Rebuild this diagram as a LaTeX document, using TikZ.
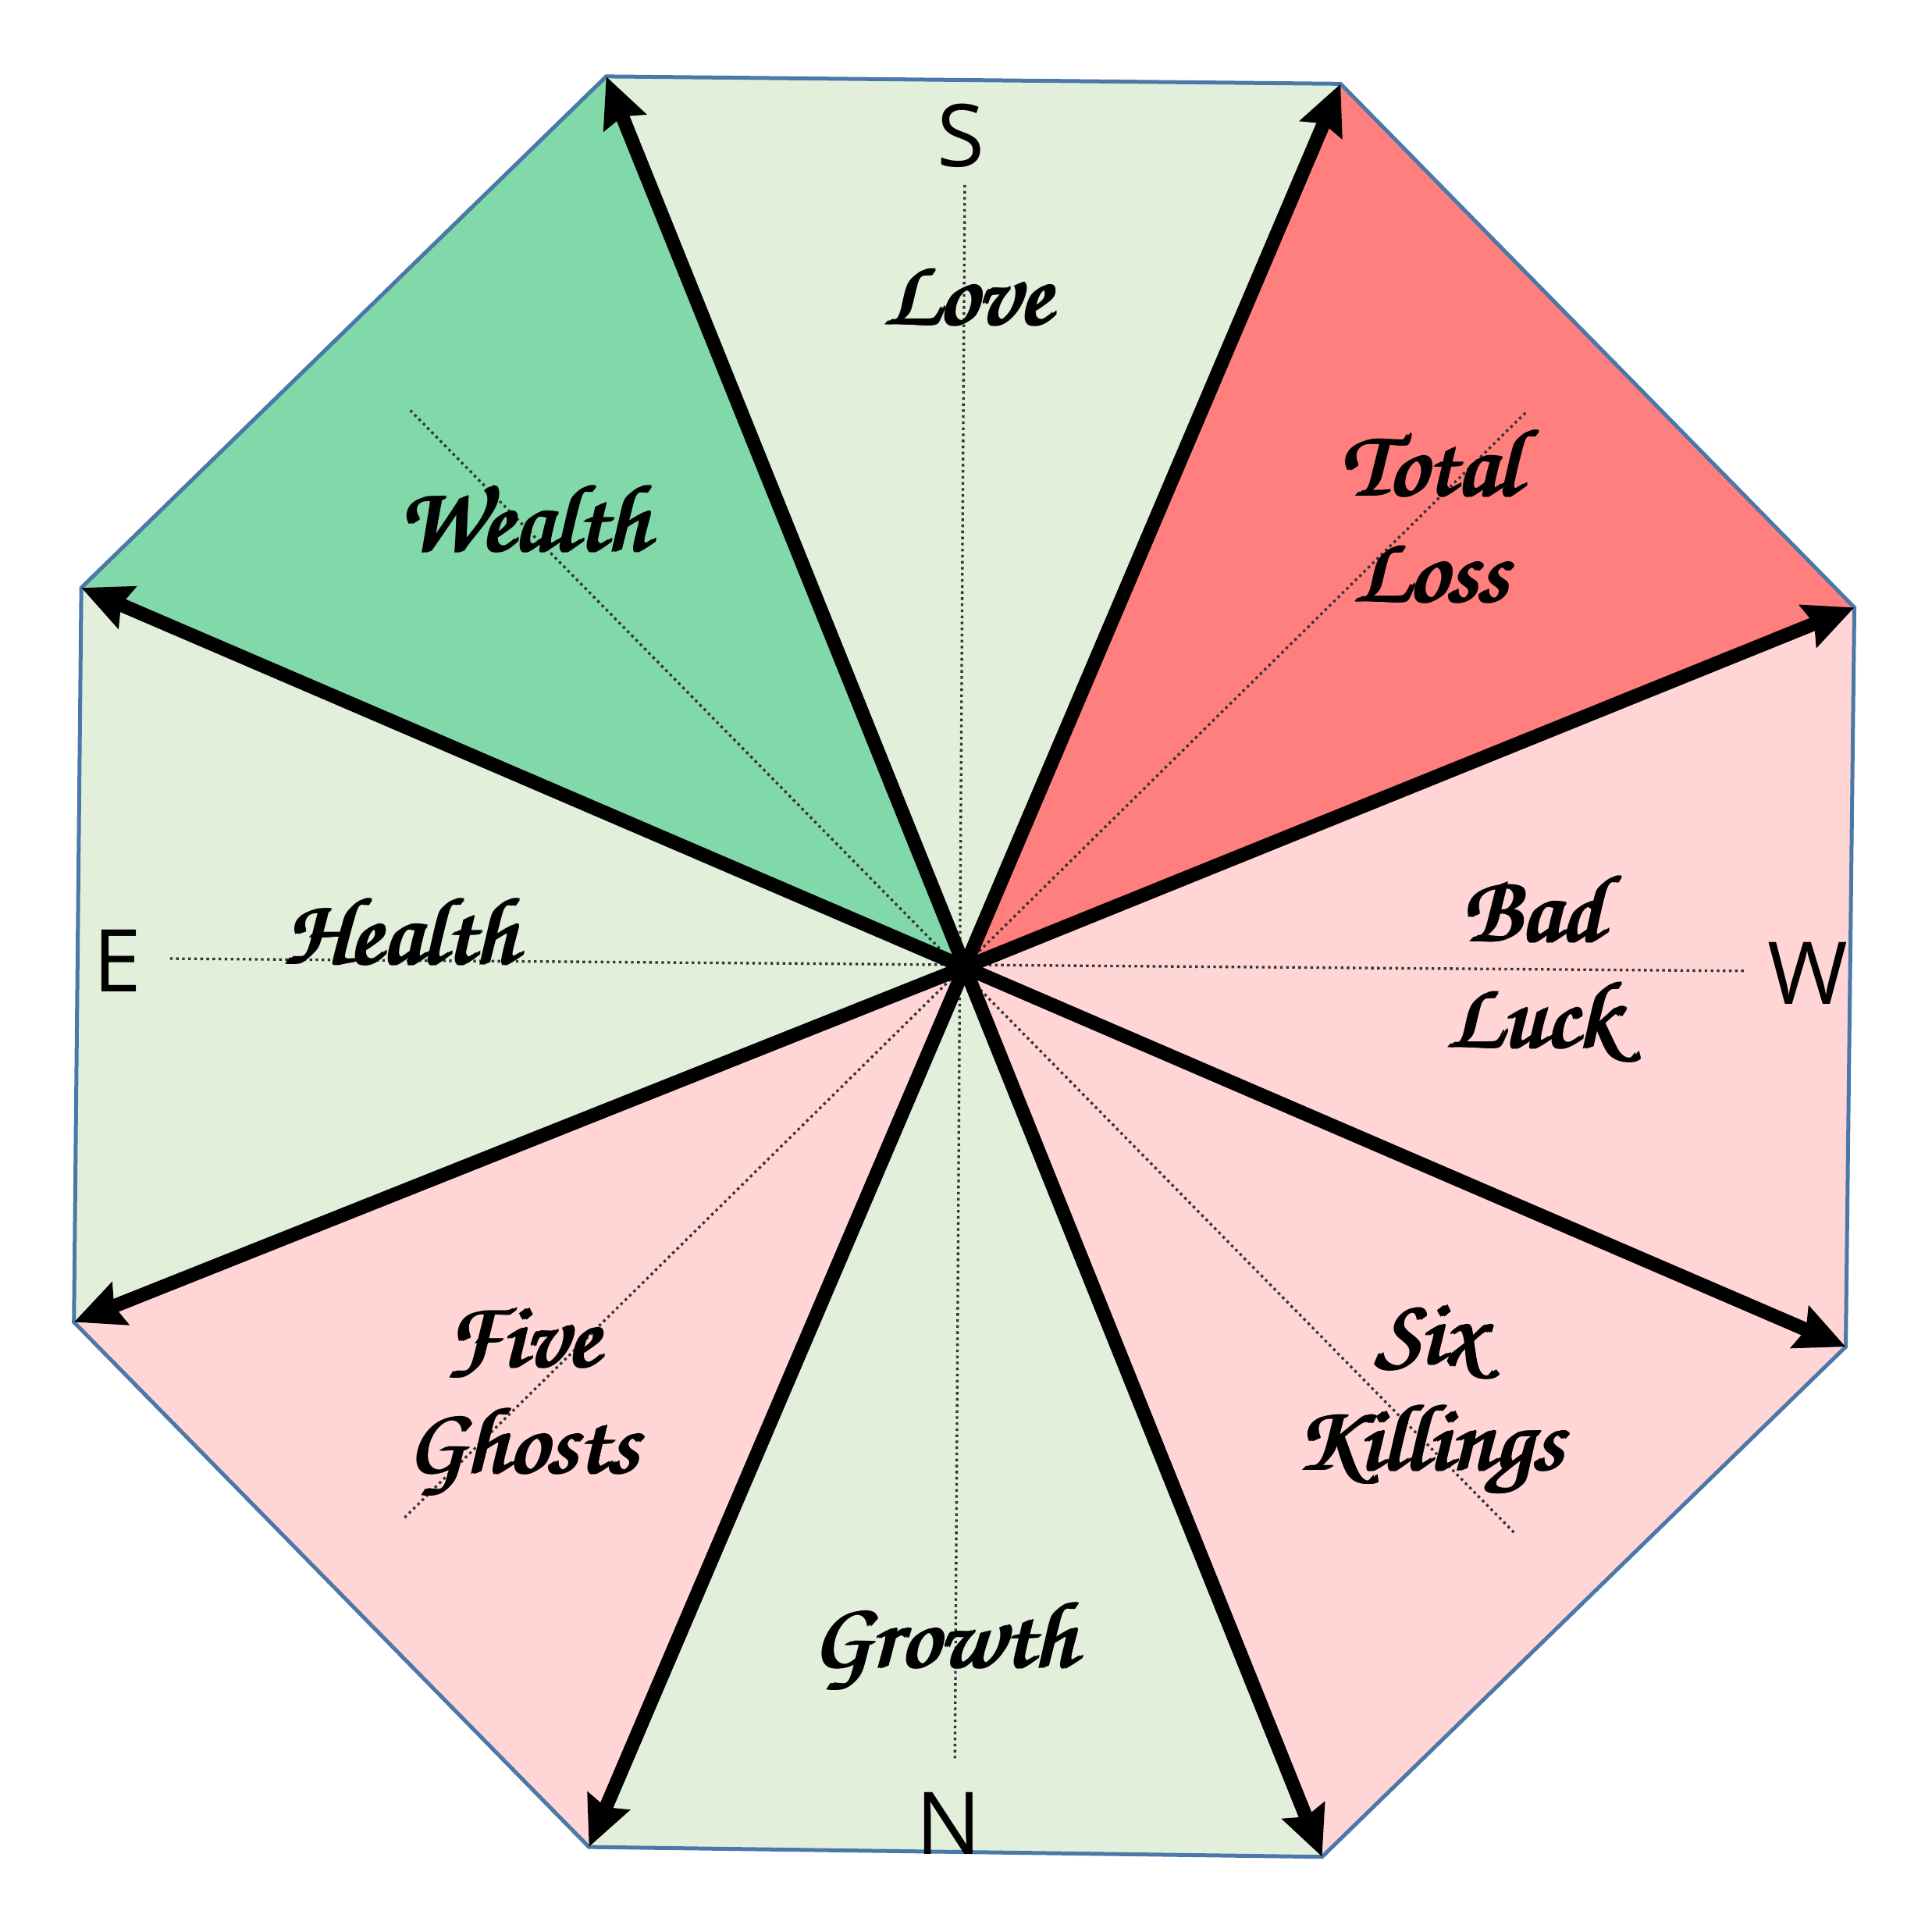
\documentclass[tikz,border=0pt]{standalone}
\usepackage{fontspec}
\usepackage{tikz}
\usetikzlibrary{arrows.meta, positioning}

\newfontfamily\compassfont{Open Sans}
\newcommand\fancyfont{\fontencoding{T1}\fontfamily{pzc}\fontseries{mb}\fontshape{it}\fontsize{22}{24.5}\selectfont}
\newcommand\heavy[1]{\rlap{#1}\kern.45pt\rlap{#1}\kern.45pt\rlap{\raisebox{.3pt}{#1}}#1}

\definecolor{paleGreen}{HTML}{E2EFDA}
\definecolor{mintGreen}{HTML}{81D8A8}
\definecolor{salmonRed}{HTML}{FF7F7F}
\definecolor{palePink}{HTML}{FFD5D5}
\definecolor{edgeBlue}{HTML}{4A78A8}

\begin{document}
\begin{tikzpicture}[
        x=0.01cm, y=-0.01cm,
        rim/.style={draw=edgeBlue, line width=0.9pt, line join=miter},
        guide/.style={dash pattern=on 0.6pt off 0.8pt, line width=0.6pt, draw=black!80},
        arrow/.style={-{Stealth[length=4mm, width=3.6mm, inset=0.5mm]}, line width=3.2pt, draw=black},
        sector/.style={font=\fancyfont, align=center, inner sep=0pt},
        compass/.style={font=\compassfont\fontsize{20}{24}\selectfont, inner sep=0pt}
    ]
    \useasboundingbox (0,0) rectangle (1568,1568);

    % corners of the octagon
    \coordinate (c)  at (783,785);
    \coordinate (tl) at (492,62);
    \coordinate (tr) at (1088,68);
    \coordinate (rt) at (1505,493);
    \coordinate (rb) at (1498,1093);
    \coordinate (br) at (1073,1507);
    \coordinate (bl) at (478,1499);
    \coordinate (lb) at (60,1073);
    \coordinate (lt) at (66,477);

    % sectors
    \fill[paleGreen] (c) -- (tl) -- (tr) -- cycle;
    \fill[salmonRed] (c) -- (tr) -- (rt) -- cycle;
    \fill[palePink]  (c) -- (rt) -- (rb) -- cycle;
    \fill[palePink]  (c) -- (rb) -- (br) -- cycle;
    \fill[paleGreen] (c) -- (br) -- (bl) -- cycle;
    \fill[palePink]  (c) -- (bl) -- (lb) -- cycle;
    \fill[paleGreen] (c) -- (lb) -- (lt) -- cycle;
    \fill[mintGreen] (c) -- (lt) -- (tl) -- cycle;
    \draw[rim] (tl) -- (tr) -- (rt) -- (rb) -- (br) -- (bl) -- (lb) -- (lt) -- cycle;

    % dotted guide lines
    \coordinate (gs) at (783,150);
    \coordinate (gn) at (775,1427);
    \coordinate (ge) at (138,778);
    \coordinate (gw) at (1416,788);
    \coordinate (gse) at (333,333);
    \coordinate (gnw) at (1230,1245);
    \coordinate (gsw) at (1238,335);
    \coordinate (gne) at (328,1232);
    \draw[guide] (gs) -- (gn);
    \draw[guide] (ge) -- (gw);
    \draw[guide] (gse) -- (gnw);
    \draw[guide] (gsw) -- (gne);

    % compass letters
    \node[compass] (s) at (780,110) {S};
    \node[compass] (w) at (1467,790) {W};
    \node[compass] (n) at (770,1480) {N};
    \node[compass] (e) at (95,780) {E};

    % sector names
    \node[sector] (love) at (785,240) {\heavy{Love}};
    \node[sector] (loss) at (1161,418) {\heavy{Total}\\\heavy{Loss}};
    \node[sector] (wealth) at (425,420) {\heavy{Wealth}};
    \node[sector] (health) at (325,755) {\heavy{Health}};
    \node[sector] (luck) at (1244,786) {\heavy{Bad}\\\heavy{Luck}};
    \node[sector] (ghosts) at (424,1138) {\heavy{Five}\\\heavy{Ghosts}};
    \node[sector] (killings) at (1160,1138) {\heavy{Six}\\\heavy{Killings}};
    \node[sector] (growth) at (766,1335) {\heavy{Growth}};

    % arrows from the centre
    \foreach \v in {tl,tr,rt,rb,br,bl,lb,lt}
        \draw[arrow] (c) -- (\v);
\end{tikzpicture}
\end{document}
